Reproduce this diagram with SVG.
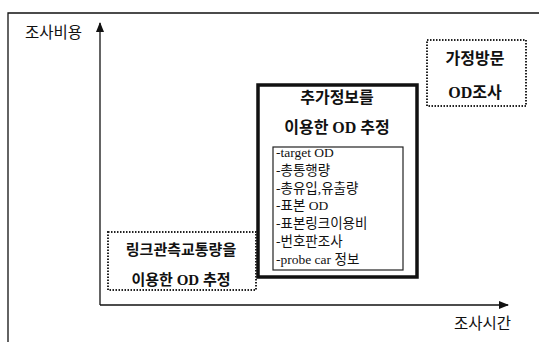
<svg xmlns="http://www.w3.org/2000/svg" width="539" height="342" viewBox="0 0 539 342">
<style>
.lbl{font-family:"Noto Sans CJK KR","Noto Sans",sans-serif;font-size:15.5px;fill:#111}
.ttl{font-family:"Liberation Serif","Noto Sans CJK KR",serif;font-size:16px;font-weight:bold;fill:#111;text-anchor:middle}
.itm{font-family:"Liberation Serif","Noto Sans CJK KR",serif;font-size:13.5px;fill:#111}
.dot{fill:none;stroke:#222;stroke-width:2;stroke-dasharray:1.5 1.5}
.ax{stroke:#111;stroke-width:1.3;fill:none}
</style>
<defs>
<marker id="ah" markerWidth="10" markerHeight="8" refX="9" refY="4" orient="auto" markerUnits="userSpaceOnUse">
<path d="M0,0 L10,4 L0,8 z" fill="#111"/>
</marker>
</defs>
<g id="frame">
<path d="M8,342 V13 H539" class="ax"/>
</g>
<g id="connectors">
<line x1="100" y1="305" x2="100" y2="23" class="ax" marker-end="url(#ah)"/>
<line x1="100" y1="305" x2="508" y2="305" class="ax" marker-end="url(#ah)"/>
</g>
<g id="label-cost"><text x="25" y="38" class="lbl">조사비용</text></g>
<g id="label-time"><text x="454" y="329" class="lbl">조사시간</text></g>
<g id="node-household">
<rect x="427" y="40" width="99" height="66" class="dot"/>
<text x="475" y="64" class="ttl">가정방문</text>
<text x="475" y="98" class="ttl">OD조사</text>
</g>
<g id="node-additional">
<rect x="258" y="85" width="159" height="192" fill="none" stroke="#111" stroke-width="3.5"/>
<text x="337" y="103" class="ttl">추가정보를</text>
<text x="337" y="133" class="ttl">이용한 OD 추정</text>
<rect x="273" y="147" width="130" height="123" fill="none" stroke="#222" stroke-width="1.2"/>
<text x="276" y="157" class="itm">-target OD</text>
<text x="276" y="175" class="itm">-총통행량</text>
<text x="276" y="193" class="itm">-총유입,유출량</text>
<text x="276" y="210" class="itm">-표본 OD</text>
<text x="276" y="228" class="itm">-표본링크이용비</text>
<text x="276" y="246" class="itm">-번호판조사</text>
<text x="276" y="264" class="itm">-probe car 정보</text>
</g>
<g id="node-link">
<rect x="108" y="232" width="148" height="58" class="dot"/>
<text x="181" y="255" class="ttl" style="font-size:15px">링크관측교통량을</text>
<text x="181" y="285" class="ttl" style="font-size:15px">이용한 OD 추정</text>
</g>
</svg>
